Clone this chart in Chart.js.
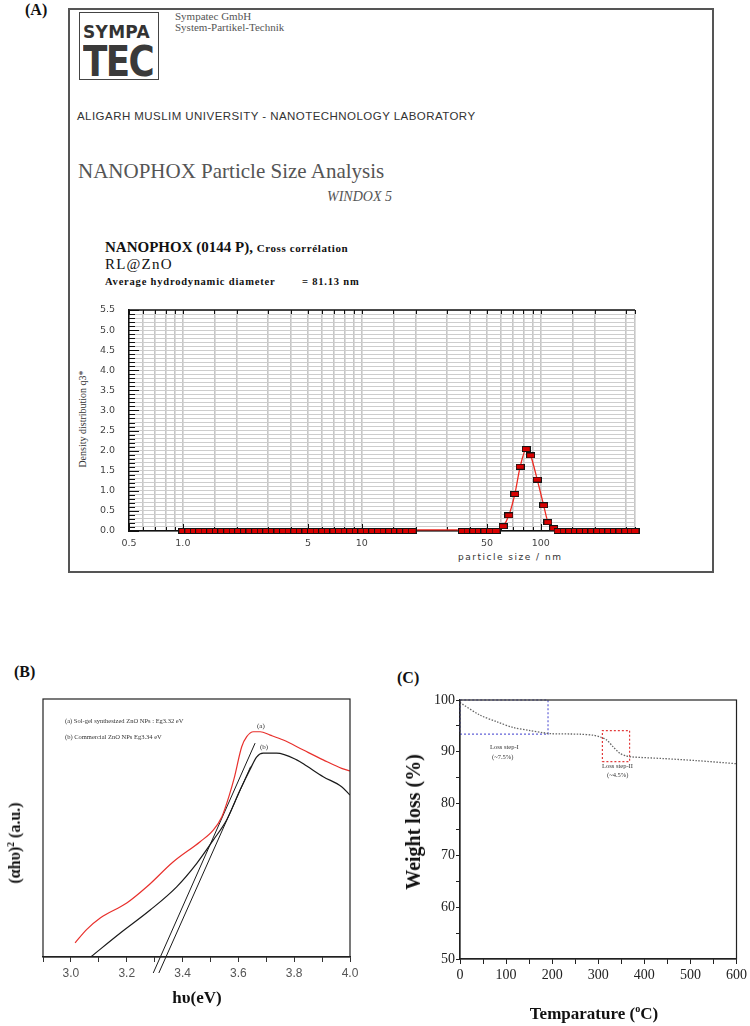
<!DOCTYPE html>
<html lang="en">
<head>
<meta charset="utf-8">
<title>RL@ZnO characterisation</title>
<script src="https://cdn.jsdelivr.net/npm/chart.js@4.4.1/dist/chart.umd.min.js"></script>
<style>
  html, body { margin: 0; background: #fff; }
  #page { position: relative; width: 750px; height: 1026px; overflow: hidden;
          font-family: "Liberation Serif", "Times New Roman", serif; color: #111; }
  .t { position: absolute; white-space: nowrap; line-height: 1; }
  .c { position: absolute; white-space: nowrap; line-height: 1; transform: translate(-50%, -50%); }
  .rot { position: absolute; white-space: nowrap; line-height: 1; transform: translate(-50%, -50%) rotate(-90deg); }
  .panel { font-weight: bold; font-size: 16px; }
  .tiny { font-size: 6.5px; color: #333; }
  sup { font-size: 0.6em; vertical-align: super; line-height: 0; }
  canvas { position: absolute; }
  #boxA { position: absolute; left: 68px; top: 8px; width: 642px; height: 561px; border: 2px solid #555; }
  #logo { position: absolute; left: 79px; top: 12px; width: 78px; height: 66px; border: 1.5px solid #444; overflow: hidden; }
  #logo .sym { position: absolute; left: 3px; top: 10.5px; font: bold 17px "DejaVu Sans", sans-serif; color: #333; letter-spacing: 0.3px; line-height: 1; }
  #logo .tec { position: absolute; left: 3px; top: 27px; font: bold 43px "DejaVu Sans", sans-serif; color: #3a3a3a;
               letter-spacing: -2px; line-height: 1; transform: scaleX(0.83); transform-origin: left top; }
</style>
</head>
<body>
<div id="page">
  <!-- panel A header -->
  <div class="t panel" style="left:25px;top:2px">(A)</div>
  <div id="boxA"></div>
  <div id="logo"><div class="sym">SYMPA</div><div class="tec">TEC</div></div>
  <div class="t" style="left:175px;top:10.5px;font-size:11px;color:#555">Sympatec GmbH</div>
  <div class="t" style="left:175px;top:22px;font-size:11px;color:#555">System-Partikel-Technik</div>
  <div class="t" style="left:77px;top:110px;font:11.5px 'Liberation Sans',sans-serif;letter-spacing:0.45px;color:#333">ALIGARH MUSLIM UNIVERSITY - NANOTECHNOLOGY LABORATORY</div>
  <div class="t" style="left:78px;top:160.5px;font-size:21px;color:#555">NANOPHOX Particle Size Analysis</div>
  <div class="t" style="left:327px;top:190px;font-size:14px;font-style:italic;color:#555">WINDOX 5</div>
  <div class="t" style="left:105px;top:239.5px;font-size:15px;font-weight:bold">NANOPHOX (0144 P), <span style="font-size:11px;letter-spacing:0.6px">Cross corrélation</span></div>
  <div class="t" style="left:105px;top:256.5px;font-size:15px;letter-spacing:1.2px">RL@ZnO</div>
  <div class="t" style="left:105px;top:277px;font-size:10.5px;font-weight:bold;letter-spacing:0.8px">Average hydrodynamic diameter</div>
  <div class="t" style="left:302px;top:277px;font-size:10.5px;font-weight:bold;letter-spacing:0.8px">= 81.13 nm</div>
  <div class="rot" style="left:83px;top:419px;font-size:10px;color:#333">Density distribution q3*</div>
  <div class="t" style="left:458px;top:551.5px;font:9px 'DejaVu Sans',sans-serif;letter-spacing:1.5px;color:#333">particle size / nm</div>
  <canvas id="chartA" width="750" height="270" style="left:0;top:290px"></canvas>

  <!-- panel B -->
  <div class="t panel" style="left:14px;top:664px">(B)</div>
  <canvas id="chartB" width="380" height="346" style="left:0;top:680px"></canvas>
  <div class="t tiny" style="left:65px;top:717.5px">(a) Sol-gel synthesized ZnO NPs : Eg3.32 eV</div>
  <div class="t tiny" style="left:65px;top:733.5px">(b) Commercial ZnO NPs Eg3.34 eV</div>
  <div class="t" style="left:257px;top:722.5px;font-size:7px;color:#333">(a)</div>
  <div class="t" style="left:260px;top:743.5px;font-size:7px;color:#333">(b)</div>
  <div class="c" style="left:197px;top:997px;font-size:17px;font-weight:bold">hυ(eV)</div>
  <div class="rot" style="left:15px;top:843px;font-size:16px;font-weight:bold">(αhυ)<sup>2</sup> (a.u.)</div>

  <!-- panel C -->
  <div class="t panel" style="left:397px;top:670px">(C)</div>
  <canvas id="chartC" width="370" height="346" style="left:380px;top:680px"></canvas>
  <div class="t tiny" style="left:490px;top:744px">Loss step-I</div>
  <div class="t tiny" style="left:492px;top:754px">(~7.5%)</div>
  <div class="t tiny" style="left:602px;top:763px">Loss step-II</div>
  <div class="t tiny" style="left:607px;top:772px">(~4.5%)</div>
  <div class="c" style="left:594px;top:1013px;font-size:17px;font-weight:bold">Temparature (<sup>o</sup>C)</div>
  <div class="rot" style="left:413px;top:822px;font-size:20px;font-weight:bold">Weight loss (%)</div>
</div>

<script>
// ---- Panel A: NANOPHOX size distribution (class sizes in nm, density q3*)
const sizeNm = [
  1.00, 1.08, 1.16, 1.24, 1.33, 1.43, 1.54, 1.65, 1.78, 1.91,
  2.05, 2.21, 2.37, 2.55, 2.74, 2.94, 3.16, 3.40, 3.65, 3.92,
  4.22, 4.53, 4.87, 5.23, 5.62, 6.04, 6.49, 6.98, 7.50, 8.06,
  8.66, 9.31, 10.0, 10.7, 11.5, 12.4, 13.3, 14.3, 15.4, 16.5,
  17.8, 19.1, 20.5, 22.1, 23.7, 25.5, 27.4, 29.4, 31.6, 34.0,
  36.5, 39.2, 42.2, 45.3, 48.7, 52.3, 56.2, 61.7, 66.3, 71.6,
  76.7, 82.9, 87.7, 95.5, 103.7, 109.6, 118, 125, 135, 145,
  156, 167, 180, 193, 208, 223, 240, 258, 277, 298,
  320, 336
];
const densityQ3 = [
  0, 0, 0, 0, 0, 0, 0, 0, 0, 0,
  0, 0, 0, 0, 0, 0, 0, 0, 0, 0,
  0, 0, 0, 0, 0, 0, 0, 0, 0, 0,
  0, 0, 0, 0, 0, 0, 0, 0, 0, 0,
  0, 0, 0.03, 0.03, 0.03, 0.03, 0.03, 0.03, 0.03, 0.03,
  0, 0, 0, 0, 0, 0, 0, 0.12, 0.39, 0.92,
  1.60, 2.04, 1.88, 1.28, 0.64, 0.22, 0.07, 0, 0, 0,
  0, 0, 0, 0, 0, 0, 0, 0, 0, 0,
  0, 0
];
const sizeTickLabels = [0.5, 1, 5, 10, 50, 100];
const densityTickLabels = [0, 0.5, 1, 1.5, 2, 2.5, 3, 3.5, 4, 4.5, 5, 5.5];

// ---- Panel B: Tauc plot, (a) sol-gel ZnO (red), (b) commercial ZnO (black)
const tailEvA = [3.015, 3.057, 3.105, 3.200, 3.272, 3.367, 3.463, 3.510, 3.541, 3.570,
                 3.585, 3.612, 3.630, 3.654, 3.678, 3.714, 3.761, 3.833, 3.904, 3.970, 4.000];
const tailAbsA = [5.5, 10.7, 15.1, 20.9, 27.2, 36.9, 44.7, 49.2, 54.4, 63.6,
                  69.3, 81.5, 85.4, 87.3, 87.3, 86.0, 84.1, 80.2, 76.4, 73.1, 72.1];
const tailEvB = [3.072, 3.176, 3.284, 3.379, 3.451, 3.510, 3.558, 3.606, 3.641, 3.666,
                 3.689, 3.737, 3.809, 3.845, 3.904, 3.970, 4.000];
const tailAbsB = [0.1, 9.2, 18.2, 27.2, 36.3, 45.3, 53.1, 64.7, 72.5, 77.6,
                  79.0, 79.0, 76.4, 74.0, 69.9, 66.0, 62.8];
const fitEvA = [3.295, 3.660];
const fitAbsA = [-6.2, 82.9];
const fitEvB = [3.315, 3.644];
const fitAbsB = [-6.2, 73.8];
const evTickLabels = [3.0, 3.2, 3.4, 3.6, 3.8, 4.0];

// ---- Panel C: TGA curve and the two loss-step boxes [T0, T1, W0, W1]
const tempC = [0, 43, 80, 115, 152, 180, 195, 260, 289, 303, 318, 332, 347, 361, 375, 440, 513, 600];
const weightPct = [99.5, 97.1, 95.8, 94.7, 94.1, 93.7, 93.5, 93.4, 93.2, 92.9, 92.3, 91.0, 89.7, 89.2, 89.0, 88.7, 88.3, 87.7];
const stepOneBox = [0, 191, 93.4, 100];
const stepTwoBox = [309, 368, 88.1, 94.1];
const tempTickLabels = [0, 100, 200, 300, 400, 500, 600];
const weightTickLabels = [50, 60, 70, 80, 90, 100];

Chart.defaults.font.family = '"Liberation Serif", serif';
Chart.defaults.animation = false;
Chart.defaults.responsive = false;
Chart.defaults.plugins.legend.display = false;
Chart.defaults.plugins.tooltip.enabled = false;

const near = (list, v) => list.some((l) => Math.abs(l - v) < 1e-6);
const pts = (xs, ys) => xs.map((x, i) => ({ x, y: ys[i] }));
const boxPts = ([x0, x1, y0, y1]) => pts([x0, x1, x1, x0, x0], [y0, y0, y1, y1, y0]);

// rectangular red marker, as drawn by WINDOX
function makeMarker() {
  const c = document.createElement('canvas');
  c.width = 9;
  c.height = 6;
  const g = c.getContext('2d');
  g.fillStyle = '#141414';
  g.fillRect(0, 0, 9, 6);
  g.fillStyle = '#d80000';
  g.fillRect(1, 1, 7, 4);
  return c;
}
const marker = makeMarker();

// inner tick marks + top border of the size-analysis plot
const innerTicks = {
  id: 'innerTicks',
  beforeDatasetsDraw(chart) {
    const { ctx, chartArea: a, scales: { x, y } } = chart;
    ctx.save();
    ctx.strokeStyle = '#111';
    ctx.lineWidth = 1;
    ctx.beginPath();
    y.ticks.forEach((t) => {
      const py = Math.round(y.getPixelForValue(t.value)) + 0.5;
      const len = near(densityTickLabels, t.value) ? 10 : 6;
      ctx.moveTo(a.left, py);
      ctx.lineTo(a.left + len, py);
    });
    x.ticks.forEach((t) => {
      const px = Math.round(x.getPixelForValue(t.value)) + 0.5;
      const len = near(sizeTickLabels, t.value) ? 7 : 4;
      ctx.moveTo(px, a.bottom);
      ctx.lineTo(px, a.bottom - len);
      ctx.moveTo(px, a.top);
      ctx.lineTo(px, a.top + 4);
    });
    ctx.stroke();
    ctx.lineWidth = 1.5;
    ctx.beginPath();
    ctx.moveTo(a.left, a.top);
    ctx.lineTo(a.right, a.top);
    ctx.stroke();
    ctx.restore();
  }
};

// box round the plot area
const frame = {
  id: 'frame',
  afterDatasetsDraw(chart, args, opts) {
    const { ctx, chartArea: a } = chart;
    ctx.save();
    ctx.strokeStyle = opts.color || '#111';
    ctx.lineWidth = opts.width || 1.2;
    ctx.strokeRect(a.left, a.top, a.right - a.left, a.bottom - a.top);
    ctx.restore();
  }
};

new Chart(document.getElementById('chartA'), {
  type: 'line',
  data: {
    datasets: [{
      data: pts(sizeNm, densityQ3),
      borderColor: '#ee2b22',
      borderWidth: 1.3,
      cubicInterpolationMode: 'monotone',
      pointStyle: (ctx) => (sizeNm[ctx.dataIndex] > 20 && sizeNm[ctx.dataIndex] < 35 ? false : marker),
      pointRadius: 4,
      clip: false
    }]
  },
  options: {
    layout: { padding: { left: 0, right: 115, top: 20, bottom: 0 } },
    scales: {
      x: {
        type: 'logarithmic', min: 0.5, max: 336,
        afterFit: (s) => { s.height = 29; },
        grid: { color: '#c6c6c6', lineWidth: 1.6, drawTicks: false },
        border: { color: '#111', width: 1.5 },
        ticks: {
          autoSkip: false, maxRotation: 0, padding: 7, color: '#444',
          font: { family: 'DejaVu Sans', size: 9.5 },
          callback: (v) => (near(sizeTickLabels, v) ? (v === 1 ? '1.0' : String(v)) : '')
        }
      },
      y: {
        min: 0, max: 5.5,
        afterFit: (s) => { s.width = 129; },
        grid: { color: '#cdcdcd', lineWidth: 1, drawTicks: false },
        border: { color: '#111', width: 1.5 },
        ticks: {
          stepSize: 0.1, autoSkip: false, padding: 14, color: '#444',
          font: { family: 'DejaVu Sans', size: 9.5 },
          callback: (v) => (near(densityTickLabels, v) ? v.toFixed(1) : '')
        }
      }
    }
  },
  plugins: [innerTicks]
});

new Chart(document.getElementById('chartB'), {
  type: 'line',
  data: {
    datasets: [
      { data: pts(tailEvA, tailAbsA), borderColor: '#e8302c', borderWidth: 1.2, pointRadius: 0, cubicInterpolationMode: 'monotone' },
      { data: pts(tailEvB, tailAbsB), borderColor: '#1a1a1a', borderWidth: 1.2, pointRadius: 0, cubicInterpolationMode: 'monotone' },
      { data: pts(fitEvA, fitAbsA), borderColor: '#1a1a1a', borderWidth: 1, pointRadius: 0, clip: false },
      { data: pts(fitEvB, fitAbsB), borderColor: '#1a1a1a', borderWidth: 1, pointRadius: 0, clip: false }
    ]
  },
  options: {
    layout: { padding: { left: 43, right: 30, top: 19, bottom: 39 } },
    plugins: { frame: { color: '#222', width: 1.2 } },
    scales: {
      x: {
        type: 'linear', min: 2.9, max: 4.0,
        afterFit: (s) => { s.height = 30; },
        grid: { drawOnChartArea: false, tickLength: 5, color: '#333' },
        border: { color: '#222', width: 1.2 },
        ticks: {
          stepSize: 0.1, autoSkip: false, maxRotation: 0, padding: 4, color: '#555',
          font: { family: 'Liberation Sans', size: 12 },
          callback: (v) => (near(evTickLabels, v) ? v.toFixed(1) : '')
        }
      },
      y: { display: false, min: 0, max: 100 }
    }
  },
  plugins: [frame]
});

new Chart(document.getElementById('chartC'), {
  type: 'line',
  data: {
    datasets: [
      { data: pts(tempC, weightPct), borderColor: '#666', borderWidth: 1.3, borderDash: [1.5, 1.5], pointRadius: 0, tension: 0.3 },
      { data: boxPts(stepOneBox), borderColor: '#6262d8', borderWidth: 1.2, borderDash: [2, 2], pointRadius: 0, clip: false },
      { data: boxPts(stepTwoBox), borderColor: '#e23b3b', borderWidth: 1.2, borderDash: [2, 2], pointRadius: 0, clip: false }
    ]
  },
  options: {
    layout: { padding: { left: 0, right: 13, top: 20, bottom: 37 } },
    plugins: { frame: { color: '#222', width: 1.2 } },
    scales: {
      x: {
        type: 'linear', min: 0, max: 600,
        afterFit: (s) => { s.height = 30; },
        grid: { drawOnChartArea: false, tickLength: 5, color: '#222' },
        border: { color: '#222', width: 1.2 },
        ticks: {
          stepSize: 50, autoSkip: false, maxRotation: 0, padding: 3, color: '#222',
          font: { size: 14 },
          callback: (v) => (near(tempTickLabels, v) ? String(v) : '')
        }
      },
      y: {
        min: 50, max: 100,
        afterFit: (s) => { s.width = 80; },
        grid: { drawOnChartArea: false, tickLength: 4, color: '#222' },
        border: { color: '#222', width: 1.2 },
        ticks: {
          stepSize: 5, autoSkip: false, padding: 1, color: '#222',
          font: { size: 14 },
          callback: (v) => (near(weightTickLabels, v) ? String(v) : '')
        }
      }
    }
  },
  plugins: [frame]
});
</script>
</body>
</html>
